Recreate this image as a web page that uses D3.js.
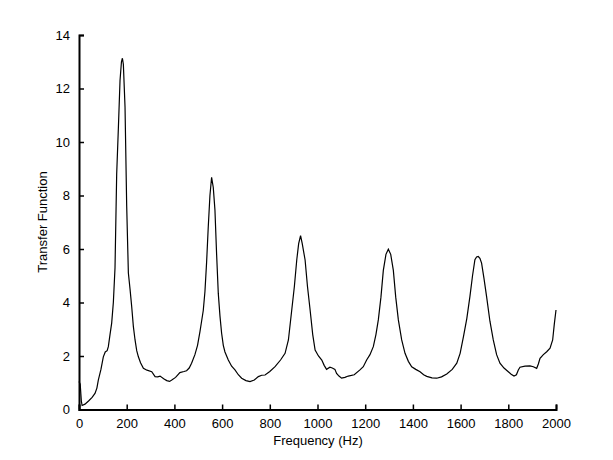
<!DOCTYPE html>
<html><head><meta charset="utf-8">
<script src="https://cdn.jsdelivr.net/npm/d3@7"></script>
<style>body{margin:0;background:#fff}svg{display:block}text{font-family:"Liberation Sans",Arial,sans-serif;fill:#000}</style>
</head><body><svg id="c" width="613" height="460"></svg>
<script>
const freq = [0,5,10,13,25,40,55,67,75,81,92,102,110,118,123,130,137,144,151,158,165,172,178,182,186,193,200,207,214,221,228,235,242,249,258,270,285,305,319,330,340,355,368,380,389,405,423,440,451,462,472,486,497,507,514,521,528,535,542,549,556,563,570,577,584,591,598,605,612,626,640,654,668,682,700,717,735,752,766,780,800,822,845,864,878,892,903,913,921,929,936,948,958,969,980,990,1004,1018,1028,1038,1052,1062,1073,1080,1090,1101,1115,1129,1154,1178,1192,1206,1220,1234,1245,1255,1266,1276,1287,1297,1307,1318,1328,1339,1353,1367,1381,1395,1412,1430,1445,1458,1480,1500,1520,1542,1565,1584,1598,1612,1626,1639,1650,1660,1667,1674,1681,1688,1698,1709,1723,1737,1751,1765,1782,1800,1812,1824,1834,1842,1849,1870,1891,1905,1919,1926,1933,1947,1961,1975,1986,1993,2000];
const transfer = [1.05,0.95,0.3,0.15,0.2,0.32,0.45,0.6,0.8,1.1,1.5,1.97,2.15,2.2,2.35,2.8,3.23,4.0,5.3,8.8,10.5,12.3,13.0,13.13,12.9,11.3,7.6,5.1,4.5,3.84,3.1,2.6,2.2,1.97,1.75,1.54,1.47,1.41,1.23,1.22,1.25,1.15,1.08,1.05,1.1,1.2,1.38,1.42,1.45,1.55,1.73,2.05,2.4,2.9,3.3,3.7,4.4,5.5,6.83,8.0,8.68,8.3,7.46,5.8,4.34,3.5,2.85,2.4,2.15,1.85,1.62,1.48,1.3,1.17,1.08,1.04,1.1,1.23,1.28,1.29,1.42,1.6,1.85,2.1,2.6,3.72,4.6,5.59,6.2,6.5,6.2,5.59,4.6,3.72,2.8,2.22,2.0,1.85,1.65,1.5,1.58,1.55,1.5,1.35,1.25,1.17,1.2,1.25,1.3,1.48,1.6,1.85,2.05,2.35,2.8,3.35,4.2,5.2,5.8,5.99,5.8,5.2,4.2,3.35,2.6,2.1,1.8,1.6,1.5,1.41,1.3,1.24,1.18,1.17,1.22,1.33,1.5,1.73,2.1,2.72,3.4,4.22,5.0,5.6,5.7,5.72,5.65,5.47,4.9,4.22,3.3,2.6,2.05,1.73,1.55,1.41,1.32,1.25,1.3,1.48,1.58,1.62,1.63,1.6,1.54,1.7,1.91,2.05,2.16,2.29,2.6,3.2,3.72];
const xTicks = [0,200,400,600,800,1000,1200,1400,1600,1800,2000];
const yTicks = [0,2,4,6,8,10,12,14];
const xLabel = "Frequency (Hz)";
const yLabel = "Transfer Function";

const svg = d3.select("#c");
const x = d3.scaleLinear().domain([0,2000]).range([79,556]);
const y = d3.scaleLinear().domain([0,14]).range([409.5,35]);

const data = freq.map((f,i)=>[f,transfer[i]]);
svg.append("path").datum(data)
  .attr("fill","none").attr("stroke","#000").attr("stroke-width",1.2)
  .attr("d", d3.line().x(d=>x(d[0])).y(d=>y(d[1])));

const xa = svg.append("g").attr("transform","translate(0,409.5)")
  .call(d3.axisBottom(x).tickValues(xTicks).tickFormat(d3.format("d")).tickSizeInner(-5).tickSizeOuter(-5).tickPadding(9));
const ya = svg.append("g").attr("transform","translate(79,0)")
  .call(d3.axisLeft(y).tickValues(yTicks).tickFormat(d3.format("d")).tickSizeInner(-5).tickSizeOuter(-5).tickPadding(9));
[xa,ya].forEach(a=>{
  a.select(".domain").attr("stroke","#000").attr("stroke-width",2);
  a.selectAll(".tick line").attr("stroke","#000").attr("stroke-width",1.5);
  a.selectAll("text").style("font-size","13px").attr("fill","#000");
});

svg.append("text").attr("x",318).attr("y",445).attr("text-anchor","middle").style("font-size","13px").text(xLabel);
svg.append("text").attr("transform","translate(47,222) rotate(-90)").attr("text-anchor","middle").style("font-size","13px").text(yLabel);
</script></body></html>
